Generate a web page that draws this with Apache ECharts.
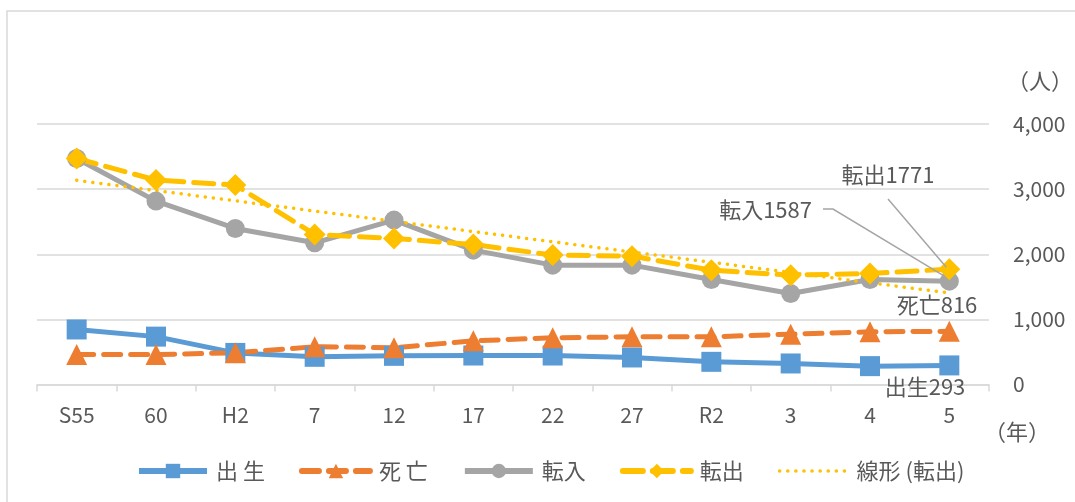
<!DOCTYPE html>
<html>
<head>
<meta charset="utf-8">
<script src="https://cdn.jsdelivr.net/npm/echarts@6/dist/echarts.min.js"></script>
<style>
  html, body { margin: 0; padding: 0; background: #fff; }
  #main { width: 1075px; height: 502px; }
</style>
</head>
<body>
<div id="main"></div>
<script>
var chartDom = document.getElementById('main');
var myChart = echarts.init(chartDom);
var option;

// 年 (S55 ～ R5)
const years = ['S55', '60', 'H2', '7', '12', '17', '22', '27', 'R2', '3', '4', '5'];
// 人数
const birth = [845, 735, 485, 425, 440, 445, 445, 415, 348, 323, 282, 293];
const death = [460, 460, 486, 580, 565, 670, 717, 732, 732, 773, 809, 816];
const moveIn = [3470, 2816, 2396, 2176, 2524, 2063, 1833, 1833, 1613, 1398, 1613, 1587];
const moveOut = [3470, 3139, 3062, 2304, 2243, 2150, 1987, 1971, 1756, 1679, 1705, 1771];
// 線形 (転出) : 両端の値
const trendEnds = [3135, 1405];
const yTicks = [0, 1000, 2000, 3000, 4000];

const textColor = '#595959';
const font = '"Noto Sans CJK JP", sans-serif';
const last = years.length - 1;

// 最後の点だけにラベル
function lastLabel(arr, text) {
  return arr.map(function (v, i) {
    if (i !== last) return v;
    return {
      value: v,
      label: {
        show: true,
        formatter: text,
        color: textColor,
        fontSize: 22,
        fontFamily: font
      }
    };
  });
}

const trendData = years.map(function (y, i) {
  if (i === 0) return trendEnds[0];
  if (i === last) return trendEnds[1];
  return null;
});

function legendItem(name, textWidth, extra) {
  return Object.assign({
    name: name,
    lineStyle: { width: 6 },
    textStyle: { width: textWidth }
  }, extra || {});
}

option = {
  animation: false,
  textStyle: { fontFamily: font },
  graphic: [
    {
      id: 'frame',
      type: 'rect',
      shape: { x: 7, y: 11, width: 1200, height: 600 },
      style: { fill: 'none', stroke: '#D9D9D9', lineWidth: 1.5 }
    },
    {
      id: 'unitY',
      type: 'text',
      left: 1007, top: 70,
      style: { text: '（人）', fill: textColor, font: '22px "Noto Sans CJK JP"' }
    },
    {
      id: 'unitX',
      type: 'text',
      left: 984, top: 421,
      style: { text: '（年）', fill: textColor, font: '22px "Noto Sans CJK JP"' }
    }
  ],
  grid: {
    left: 37,
    right: 86,
    top: 124,
    bottom: 117.5
  },
  legend: {
    left: 131,
    top: 455,
    itemWidth: 68,
    itemHeight: 18,
    itemGap: 34,
    textStyle: { color: textColor, fontSize: 22, fontFamily: font, padding: [0, 0, 0, 4] },
    data: [
      legendItem('出 生', 55),
      legendItem('死 亡', 53),
      legendItem('転入', 44),
      legendItem('転出', 44),
      legendItem('線形 (転出)', 115, { lineStyle: { width: 3.5 }, itemStyle: { opacity: 0 } })
    ]
  },
  xAxis: {
    type: 'category',
    data: years,
    boundaryGap: true,
    axisLine: { lineStyle: { color: '#D9D9D9', width: 1.5 } },
    axisTick: { show: true, length: 7, lineStyle: { color: '#D9D9D9', width: 1.5 } },
    axisLabel: { color: textColor, fontSize: 21, margin: 20, fontFamily: font }
  },
  yAxis: {
    type: 'value',
    position: 'right',
    min: yTicks[0],
    max: yTicks[yTicks.length - 1],
    interval: 1000,
    axisLine: { show: false },
    axisTick: { show: false },
    splitLine: { lineStyle: { color: '#D9D9D9', width: 1.5 } },
    axisLabel: {
      color: textColor,
      fontSize: 21,
      margin: 24,
      fontFamily: font,
      formatter: function (v) { return v.toLocaleString('en-US'); }
    }
  },
  series: [
    {
      name: '出 生',
      type: 'line',
      data: lastLabel(birth, '出生293'),
      labelLayout: { x: 925, y: 387, align: 'center', verticalAlign: 'middle' },
      symbol: 'rect',
      symbolSize: 20,
      itemStyle: { color: '#5B9BD5' },
      lineStyle: { color: '#5B9BD5', width: 5 }
    },
    {
      name: '死 亡',
      type: 'line',
      data: lastLabel(death, '死亡816'),
      labelLayout: { x: 937, y: 305, align: 'center', verticalAlign: 'middle' },
      symbol: 'triangle',
      symbolSize: 21,
      itemStyle: { color: '#ED7D31' },
      lineStyle: { color: '#ED7D31', width: 5, type: [17, 10], cap: 'round' }
    },
    {
      name: '転入',
      type: 'line',
      data: lastLabel(moveIn, '転入1587'),
      labelLayout: { x: 812, y: 210, align: 'right', verticalAlign: 'middle' },
      symbol: 'circle',
      symbolSize: 19,
      itemStyle: { color: '#A5A5A5' },
      lineStyle: { color: '#A5A5A5', width: 5 }
    },
    {
      name: '転出',
      type: 'line',
      data: lastLabel(moveOut, '転出1771'),
      labelLayout: { x: 888, y: 175, align: 'center', verticalAlign: 'middle' },
      symbol: 'diamond',
      symbolSize: 22,
      itemStyle: { color: '#FFC000' },
      lineStyle: { color: '#FFC000', width: 5, type: [20, 10], cap: 'round' }
    },
    {
      name: '線形 (転出)',
      type: 'line',
      data: trendData,
      connectNulls: true,
      showSymbol: false,
      symbol: 'none',
      itemStyle: { color: '#FFC000' },
      lineStyle: { color: '#FFC000', width: 3.5, type: [0.1, 8], cap: 'round' }
    }
  ]
};

option && myChart.setOption(option);

// 引き出し線 (データ点の位置はチャートの座標系から取得)
const pIn = myChart.convertToPixel({ seriesIndex: 2 }, [last, moveIn[last]]);
const pOut = myChart.convertToPixel({ seriesIndex: 3 }, [last, moveOut[last]]);
myChart.setOption({
  graphic: [
    {
      id: 'leaderIn',
      type: 'polyline',
      z: 10,
      shape: { points: [[823, 209], [833, 209], [pIn[0] - 5, pIn[1] - 5]] },
      style: { stroke: '#A5A5A5', lineWidth: 1.5, fill: 'none' }
    },
    {
      id: 'leaderOut',
      type: 'polyline',
      z: 10,
      shape: { points: [[888, 199], [pOut[0] - 3, pOut[1] - 2]] },
      style: { stroke: '#A5A5A5', lineWidth: 1.5, fill: 'none' }
    }
  ]
});
</script>
</body>
</html>
